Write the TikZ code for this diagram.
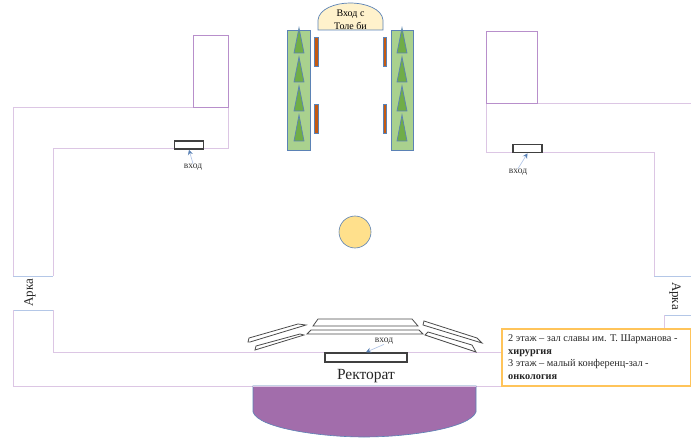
\documentclass[tikz,border=0pt]{standalone}
\usepackage{fontspec}
\setmainfont{Liberation Serif}
\definecolor{wall}{HTML}{DCC6E4}
\definecolor{wallblue}{HTML}{B4C7E7}
\definecolor{annex}{HTML}{B88FCB}
\definecolor{lawn}{HTML}{A9D18E}
\definecolor{edge}{HTML}{5B82B5}
\definecolor{tree}{HTML}{70AD47}
\definecolor{bench}{HTML}{C55A11}
\definecolor{archfill}{HTML}{FFF2CC}
\definecolor{sun}{HTML}{FFE08C}
\definecolor{hall}{HTML}{A26DAB}
\definecolor{noteedge}{HTML}{FFC45A}
\usetikzlibrary{arrows.meta}
\tikzset{
  wallline/.style={draw=wall,line width=1pt},
  wallb/.style={draw=wallblue,line width=1pt},
  annexbox/.style={draw=annex,line width=1pt},
  lawnbox/.style={draw=edge,fill=lawn,line width=0.8pt},
  treeshape/.style={draw=edge,fill=tree,line width=0.7pt},
  barbox/.style={draw=edge,fill=bench,line width=0.6pt},
  door/.style={draw=black!75,fill=white,line width=1.6pt,inner sep=0pt},
  doorlabel/.style={font=\fontsize{9.5}{10}\selectfont,inner sep=0pt,text=black!80},
  doorarrow/.style={draw=wallblue,line width=0.7pt,-{Stealth[length=5pt,width=5pt,color=edge]}},
  stepshape/.style={draw=black!70,fill=white,line width=0.8pt},
}
\begin{document}
\begin{tikzpicture}[x=1pt,y=-1pt]
\useasboundingbox (0,0) rectangle (691,441);
% left wing
\draw[wallline] (228,108) -- (228,149) -- (53,149) -- (53,276);
\draw[wallline] (228,108) -- (13,108) -- (13,276);
\draw[wallb] (13,276) -- (53,276);
\draw[annexbox] (193,36) rectangle (228,108);
% right wing
\draw[wallline] (537,104) -- (691,104);
\draw[wallline] (486,104) -- (486,153) -- (654,153) -- (654,276);
\draw[wallb] (654,276) -- (691,276);
\draw[annexbox] (486,32) rectangle (537,104);
% front
\draw[wallb] (13,310) -- (53,310);
\draw[wallline] (13,310) -- (13,386) -- (502,386);
\draw[wallline] (53,310) -- (53,352) -- (502,352);
\draw[wallb] (664,315) -- (691,315);
\draw[wallline] (664,315) -- (664,329);
% alley
\draw[draw=edge,fill=archfill,line width=0.7pt] (318,30) -- (318,20) .. controls (319,9) and (335,3) .. (350,3) .. controls (366,3) and (382,9) .. (383,20) -- (383,30) -- cycle;
\node[font=\fontsize{10}{13}\selectfont,align=center,inner sep=0pt] (gate) at (350.5,19.5) {Вход с\\Толе би};
\draw[lawnbox] (287,30) rectangle (310,150);
\draw[lawnbox] (391,30) rectangle (413,150);
\foreach \y/\b in {28/53,57/82,86/111,115/141}{
  \draw[treeshape] (299,\y) -- (304,\b) -- (294,\b) -- cycle;
  \draw[treeshape] (402,\y) -- (407,\b) -- (397,\b) -- cycle;
}
\foreach \y/\b in {37/66,104/133}{
  \draw[barbox] (314.5,\y) rectangle (318,\b);
  \draw[barbox] (383,\y) rectangle (386.5,\b);
}
% circle
\node[circle,draw=edge,fill=sun,line width=0.6pt,minimum size=32pt,inner sep=0pt] (fountain) at (355,232) {};
% steps
\draw[stepshape] (313,326) -- (318,319) -- (412,319) -- (418,326) -- cycle;
\draw[stepshape] (307,334) -- (311,330) -- (419,330) -- (423,334) -- cycle;
\draw[stepshape] (248,342) -- (249,338) -- (298,324) -- (306,325) -- (250,342) -- cycle;
\draw[stepshape] (255,350) -- (256,346) -- (300,334) -- (304,335) -- cycle;
\draw[stepshape] (423,325) -- (424,321) -- (477,338) -- (482,343) -- cycle;
\draw[stepshape] (425,335) -- (428,332) -- (472,345) -- (476,352) -- cycle;
% hall
\draw[draw=edge,fill=hall,line width=0.6pt] (253,386) -- (253,412) .. controls (258,428) and (320,437) .. (364,437) .. controls (410,437) and (470,428) .. (476,412) -- (476,386) -- cycle;
\draw[wallline] (253,386) -- (476,386);
% doors
\node[door,minimum width=29pt,minimum height=8pt] (doorL) at (189,145) {};
\node[door,minimum width=29pt,minimum height=8pt] (doorR) at (527.5,148.5) {};
\node[door,minimum width=82pt,minimum height=9pt] (doorM) at (366,357.5) {};
\node[doorlabel] (labL) at (193,167) {вход};
\node[doorlabel] (labR) at (518,172) {вход};
\node[doorlabel] (labM) at (384,341) {вход};
\draw[doorarrow] (labL.north) -- (doorL.south);
\draw[doorarrow] (labR.north) -- (doorR.south);
\draw[doorarrow] (labM.south) -- (doorM.north);
\node[font=\fontsize{15.5}{17}\selectfont,inner sep=0pt,text=black!85] (rect) at (366,376) {Ректорат};
\node[font=\fontsize{13}{14}\selectfont,rotate=90,inner sep=0pt,text=black!85] (arkL) at (30,292.5) {Арка};
\node[font=\fontsize{13}{14}\selectfont,rotate=-90,inner sep=0pt,text=black!85] (arkR) at (675,296) {Арка};
% note
\draw[draw=noteedge,fill=white,line width=1.5pt] (502,329) rectangle (691,386);
\node[anchor=north west,inner sep=0pt,align=left,font=\fontsize{10.3}{12.6}\selectfont,text=black!85] (note) at (508,334.5) {2 этаж – зал славы им. Т. Шарманова -\\\textbf{хирургия}\\3 этаж – малый конференц-зал -\\\textbf{онкология}};
\end{tikzpicture}
\end{document}
